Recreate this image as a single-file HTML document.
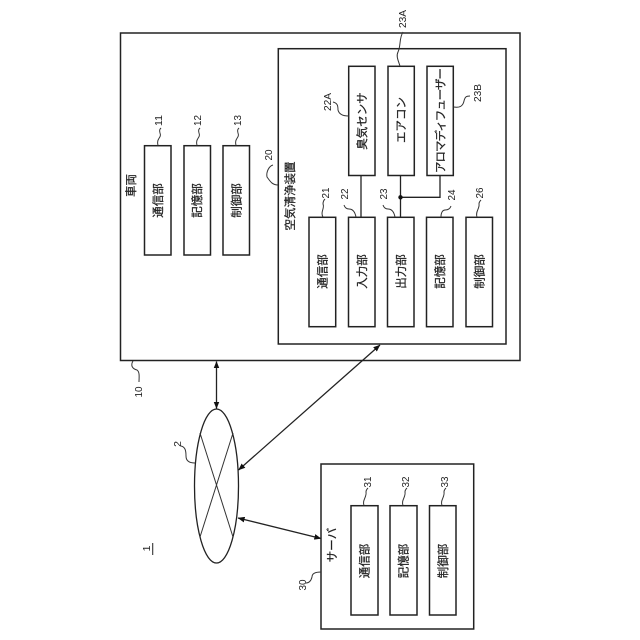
<!DOCTYPE html>
<html><head><meta charset="utf-8"><style>
html,body{margin:0;padding:0;background:#fff;width:640px;height:640px;overflow:hidden}
svg{display:block}
text{font-family:"Liberation Sans","Noto Sans CJK JP",sans-serif;fill:#222;text-anchor:middle;dominant-baseline:central}
.j text{font-size:11.5px;stroke:#222;stroke-width:.25}
.n text{font-size:10.5px}
.b{fill:#fff;stroke:#222;stroke-width:1.5}
.l{fill:none;stroke:#333;stroke-width:1}
.c{fill:none;stroke:#222;stroke-width:1.3}
</style></head><body>
<svg width="640" height="640" viewBox="0 0 640 640" xmlns="http://www.w3.org/2000/svg">
<defs>
<marker id="a" viewBox="0 0 10 8" refX="9.5" refY="4" markerWidth="7" markerHeight="5.6" orient="auto-start-reverse" markerUnits="userSpaceOnUse"><path d="M0 0L10 4L0 8Z" fill="#111"/></marker>
</defs>
<rect class="b" x="120.5" y="33" width="399.5" height="327.5"/>
<rect class="b" x="278.3" y="48.7" width="227.7" height="295.3"/>
<rect class="b" x="144.5" y="145.7" width="26.5" height="109.3"/>
<rect class="b" x="184" y="145.7" width="26.5" height="109.3"/>
<rect class="b" x="223" y="145.7" width="26.5" height="109.3"/>
<rect class="b" x="348.7" y="66.3" width="26.3" height="109.2"/>
<rect class="b" x="388" y="66.3" width="26.3" height="109.2"/>
<rect class="b" x="427" y="66.3" width="26.3" height="109.2"/>
<rect class="b" x="309" y="217.3" width="26.7" height="109.4"/>
<rect class="b" x="348.5" y="217.3" width="26.5" height="109.4"/>
<rect class="b" x="387.5" y="217.3" width="26.5" height="109.4"/>
<rect class="b" x="426.5" y="217.3" width="26.5" height="109.4"/>
<rect class="b" x="466" y="217.3" width="26.5" height="109.4"/>
<path class="c" d="M361 175.5V217.3M400.5 175.5V217.3M440 175.5V197.3H400.5"/>
<circle cx="400.5" cy="197.3" r="2.2" fill="#111"/>
<ellipse class="c" cx="216.5" cy="486" rx="22" ry="77"/>
<path class="l" d="M200 433L233 537M233 433L200 537"/>
<path class="c" d="M216.5 361.5V408.5" marker-start="url(#a)" marker-end="url(#a)"/>
<path class="c" d="M238.5 470L380 345" marker-start="url(#a)" marker-end="url(#a)"/>
<path class="c" d="M238 518L321 538.5" marker-start="url(#a)" marker-end="url(#a)"/>
<rect class="b" x="321" y="464" width="152.7" height="165"/>
<rect class="b" x="351" y="505.7" width="27" height="109.3"/>
<rect class="b" x="390" y="505.7" width="27" height="109.3"/>
<rect class="b" x="429.5" y="505.7" width="26.5" height="109.3"/>
<path class="l" d="M158 145.5C156 138 162 138 160 133C159 130 160 129 161 128"/>
<path class="l" d="M197 145.5C195 138 201 138 199 133C198 130 199 129 200 128"/>
<path class="l" d="M236 145.5C234 138 240 138 238 133C237 130 238 129 239 128"/>
<path class="l" d="M278 185C272 185 270 181 267 177C266 172 269 166 273 165"/>
<path class="l" d="M348.5 116C342 116 339 114 338 110C338 105 337 103 333 102"/>
<path class="l" d="M400 66C398 60 396 56 398 52C401 46 399 38 403 32"/>
<path class="l" d="M453.5 107C460 108 463 106 464 101C465 97 466 96 470 96"/>
<path class="l" d="M323 217C320 212 325 208 323 204C323 201 324 200 325 199"/>
<path class="l" d="M356 217C355 212 353 209 349 209C347 209 345 208 344 205"/>
<path class="l" d="M395 217C394 212 392 209 388 209C386 209 384 208 383 205"/>
<path class="l" d="M441 217C441 212 443 210 445 210C448 210 450 209 451 206"/>
<path class="l" d="M477 217C475 212 480 208 479 204C479 202 480 201 481 200"/>
<path class="l" d="M133 361C130 366 133 369 137 370C140 372 139 378 139 382"/>
<path class="l" d="M195 463C188 463 186 460 186 456C186 450 185 447 181 446"/>
<path class="l" d="M321 572C316 572 312 573 312 577C311 581 309 583 306 583"/>
<path class="l" d="M364 505.5C362 500 367 497 366 492C366 490 367 489 368 488"/>
<path class="l" d="M403 505.5C401 500 406 497 405 492C405 490 406 489 407 488"/>
<path class="l" d="M442 505.5C440 500 445 497 444 492C444 490 445 489 446 488"/>
<g class="j">
<text transform="translate(132,185.5) rotate(-90)">車両</text>
<text transform="translate(159,200.5) rotate(-90)">通信部</text>
<text transform="translate(198,200.5) rotate(-90)">記憶部</text>
<text transform="translate(237.5,200.5) rotate(-90)">制御部</text>
<text transform="translate(291,196) rotate(-90)">空気清浄装置</text>
<text transform="translate(363,121) rotate(-90)">臭気センサ</text>
<text transform="translate(402,120) rotate(-90)">エアコン</text>
<text transform="translate(441.5,120.5) rotate(-90)" textLength="105" lengthAdjust="spacing">アロマディフューザー</text>
<text transform="translate(323.5,271.5) rotate(-90)">通信部</text>
<text transform="translate(363,271.5) rotate(-90)">入力部</text>
<text transform="translate(402,271.5) rotate(-90)">出力部</text>
<text transform="translate(441,271.5) rotate(-90)">記憶部</text>
<text transform="translate(480.5,271.5) rotate(-90)">制御部</text>
<text transform="translate(333,545) rotate(-90)">サーバ</text>
<text transform="translate(365.5,561) rotate(-90)">通信部</text>
<text transform="translate(404.5,561) rotate(-90)">記憶部</text>
<text transform="translate(444,561) rotate(-90)">制御部</text>
</g>
<g class="n">
<text transform="translate(159,120.5) rotate(-90)" textLength="11" lengthAdjust="spacingAndGlyphs">11</text>
<text transform="translate(198,120.5) rotate(-90)" textLength="11" lengthAdjust="spacingAndGlyphs">12</text>
<text transform="translate(238,120.5) rotate(-90)" textLength="11" lengthAdjust="spacingAndGlyphs">13</text>
<text transform="translate(269,155) rotate(-90)" textLength="11" lengthAdjust="spacingAndGlyphs">20</text>
<text transform="translate(328,102) rotate(-90)" textLength="18" lengthAdjust="spacingAndGlyphs">22A</text>
<text transform="translate(403,19) rotate(-90)" textLength="18" lengthAdjust="spacingAndGlyphs">23A</text>
<text transform="translate(478,93) rotate(-90)" textLength="18" lengthAdjust="spacingAndGlyphs">23B</text>
<text transform="translate(326,193) rotate(-90)" textLength="11" lengthAdjust="spacingAndGlyphs">21</text>
<text transform="translate(345,194) rotate(-90)" textLength="11" lengthAdjust="spacingAndGlyphs">22</text>
<text transform="translate(384,194) rotate(-90)" textLength="11" lengthAdjust="spacingAndGlyphs">23</text>
<text transform="translate(452,195) rotate(-90)" textLength="11" lengthAdjust="spacingAndGlyphs">24</text>
<text transform="translate(480,193) rotate(-90)" textLength="11" lengthAdjust="spacingAndGlyphs">26</text>
<text transform="translate(139,392) rotate(-90)" textLength="11" lengthAdjust="spacingAndGlyphs">10</text>
<text transform="translate(178,444) rotate(-90)">2</text>
<text transform="translate(303,585) rotate(-90)" textLength="11" lengthAdjust="spacingAndGlyphs">30</text>
<text transform="translate(368,482) rotate(-90)" textLength="11" lengthAdjust="spacingAndGlyphs">31</text>
<text transform="translate(406,482) rotate(-90)" textLength="11" lengthAdjust="spacingAndGlyphs">32</text>
<text transform="translate(445,482) rotate(-90)" textLength="11" lengthAdjust="spacingAndGlyphs">33</text>
<text transform="translate(147,548.5) rotate(-90)">1</text>
</g>
<path d="M152.7 543V555" stroke="#333" stroke-width="1.1" fill="none"/>
</svg>
</body></html>
